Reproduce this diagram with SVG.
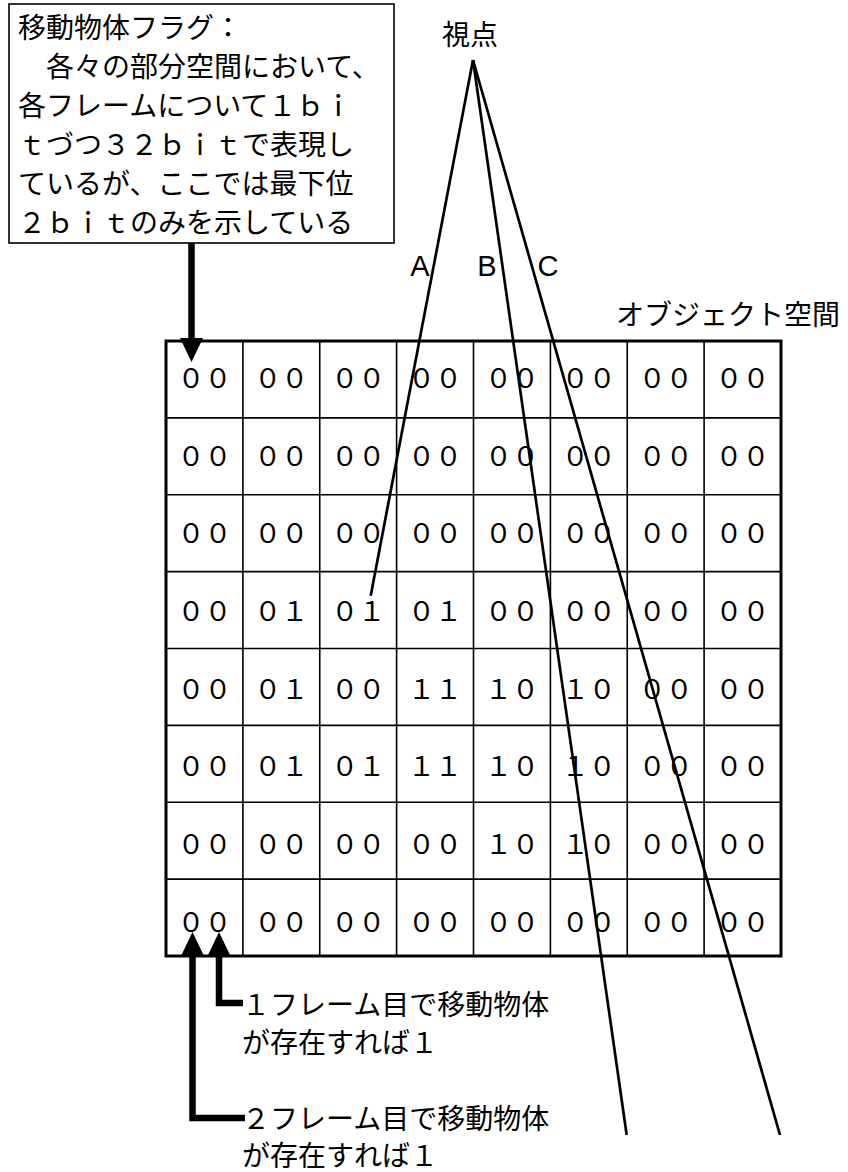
<svg xmlns="http://www.w3.org/2000/svg" width="848" height="1172" viewBox="0 0 848 1172">
<style>
text{font-family:"Noto Sans CJK JP","Noto Sans",sans-serif;fill:#000;font-size:28px}
.cell{font-size:27px;text-anchor:middle}
.abc{font-family:"Liberation Sans",Arial,sans-serif;font-size:29px;text-anchor:middle}
.g{stroke:#000;stroke-width:1.6;fill:none}
.sight{stroke:#000;stroke-width:2.7;fill:none}
.arr{stroke:#000;stroke-width:6.5;fill:none}
</style>
<defs>
<marker id="head" markerUnits="userSpaceOnUse" markerWidth="26" markerHeight="24" refX="0" refY="11.5" orient="auto" viewBox="0 0 26 24">
<path d="M0,0 L24,11.5 L0,23 Z" fill="#000"/>
</marker>
</defs>
<rect width="848" height="1172" fill="#fff"/>

<g id="flag-box">
<rect x="9" y="4" width="385" height="239" fill="#fff" stroke="#000" stroke-width="1.6"/>
<text x="18" y="38">移動物体フラグ：</text>
<text x="18" y="77">　各々の部分空間において、</text>
<text x="18" y="116">各フレームについて１ｂｉ</text>
<text x="18" y="155">ｔづつ３２ｂｉｔで表現し</text>
<text x="18" y="194">ているが、ここでは最下位</text>
<text x="18" y="233">２ｂｉｔのみを示している</text>
</g>

<g id="viewpoint">
<text x="470" y="45" text-anchor="middle">視点</text>
</g>

<g id="object-space">
<text x="616" y="325">オブジェクト空間</text>
<rect x="166" y="341" width="615" height="615" fill="#fff" stroke="#000" stroke-width="3"/>
<path class="g" d="M242.9,341V956M319.75,341V956M396.6,341V956M473.5,341V956M550.4,341V956M627.25,341V956M704.1,341V956M166,417.9H781M166,494.75H781M166,571.6H781M166,648.5H781M166,725.4H781M166,802.25H781M166,879.1H781"/>
</g>

<g id="cells">
<g id="row1">
<text class="cell" x="204.4" y="388">００</text><text class="cell" x="281.3" y="388">００</text><text class="cell" x="358.2" y="388">００</text><text class="cell" x="435.1" y="388">００</text><text class="cell" x="511.9" y="388">００</text><text class="cell" x="588.8" y="388">００</text><text class="cell" x="665.7" y="388">００</text><text class="cell" x="742.6" y="388">００</text>
</g>
<g id="row2">
<text class="cell" x="204.4" y="465.6">００</text><text class="cell" x="281.3" y="465.6">００</text><text class="cell" x="358.2" y="465.6">００</text><text class="cell" x="435.1" y="465.6">００</text><text class="cell" x="511.9" y="465.6">００</text><text class="cell" x="588.8" y="465.6">００</text><text class="cell" x="665.7" y="465.6">００</text><text class="cell" x="742.6" y="465.6">００</text>
</g>
<g id="row3">
<text class="cell" x="204.4" y="543.3">００</text><text class="cell" x="281.3" y="543.3">００</text><text class="cell" x="358.2" y="543.3">００</text><text class="cell" x="435.1" y="543.3">００</text><text class="cell" x="511.9" y="543.3">００</text><text class="cell" x="588.8" y="543.3">００</text><text class="cell" x="665.7" y="543.3">００</text><text class="cell" x="742.6" y="543.3">００</text>
</g>
<g id="row4">
<text class="cell" x="204.4" y="620.9">００</text><text class="cell" x="281.3" y="620.9">０１</text><text class="cell" x="358.2" y="620.9">０１</text><text class="cell" x="435.1" y="620.9">０１</text><text class="cell" x="511.9" y="620.9">００</text><text class="cell" x="588.8" y="620.9">００</text><text class="cell" x="665.7" y="620.9">００</text><text class="cell" x="742.6" y="620.9">００</text>
</g>
<g id="row5">
<text class="cell" x="204.4" y="698.6">００</text><text class="cell" x="281.3" y="698.6">０１</text><text class="cell" x="358.2" y="698.6">００</text><text class="cell" x="435.1" y="698.6">１１</text><text class="cell" x="511.9" y="698.6">１０</text><text class="cell" x="588.8" y="698.6">１０</text><text class="cell" x="665.7" y="698.6">００</text><text class="cell" x="742.6" y="698.6">００</text>
</g>
<g id="row6">
<text class="cell" x="204.4" y="776.2">００</text><text class="cell" x="281.3" y="776.2">０１</text><text class="cell" x="358.2" y="776.2">０１</text><text class="cell" x="435.1" y="776.2">１１</text><text class="cell" x="511.9" y="776.2">１０</text><text class="cell" x="588.8" y="776.2">１０</text><text class="cell" x="665.7" y="776.2">００</text><text class="cell" x="742.6" y="776.2">００</text>
</g>
<g id="row7">
<text class="cell" x="204.4" y="853.9">００</text><text class="cell" x="281.3" y="853.9">００</text><text class="cell" x="358.2" y="853.9">００</text><text class="cell" x="435.1" y="853.9">００</text><text class="cell" x="511.9" y="853.9">１０</text><text class="cell" x="588.8" y="853.9">１０</text><text class="cell" x="665.7" y="853.9">００</text><text class="cell" x="742.6" y="853.9">００</text>
</g>
<g id="row8">
<text class="cell" x="204.4" y="931.5">００</text><text class="cell" x="281.3" y="931.5">００</text><text class="cell" x="358.2" y="931.5">００</text><text class="cell" x="435.1" y="931.5">００</text><text class="cell" x="511.9" y="931.5">００</text><text class="cell" x="588.8" y="931.5">００</text><text class="cell" x="665.7" y="931.5">００</text><text class="cell" x="742.6" y="931.5">００</text>
</g>
</g>

<g id="sight-labels">
<text class="abc" x="420" y="276">A</text>
<text class="abc" x="487" y="276">B</text>
<text class="abc" x="548" y="276">C</text>
</g>

<g id="label-frame1">
<text x="242" y="1015">１フレーム目で移動物体</text>
<text x="242" y="1053">が存在すれば１</text>
</g>
<g id="label-frame2">
<text x="242" y="1129">２フレーム目で移動物体</text>
<text x="242" y="1166">が存在すれば１</text>
</g>

<g id="connectors">
<path class="sight" d="M473,60 L370.7,595.7"/>
<path class="sight" d="M473,60 L626.7,1135"/>
<path class="sight" d="M473,60 L780,1135"/>
<path class="arr" d="M191.5,243 V338" marker-end="url(#head)"/>
<path class="arr" d="M245,1118 H192.5 V956" marker-end="url(#head)"/>
<path class="arr" d="M243,1003 H219 V956" marker-end="url(#head)"/>
</g>
</svg>
